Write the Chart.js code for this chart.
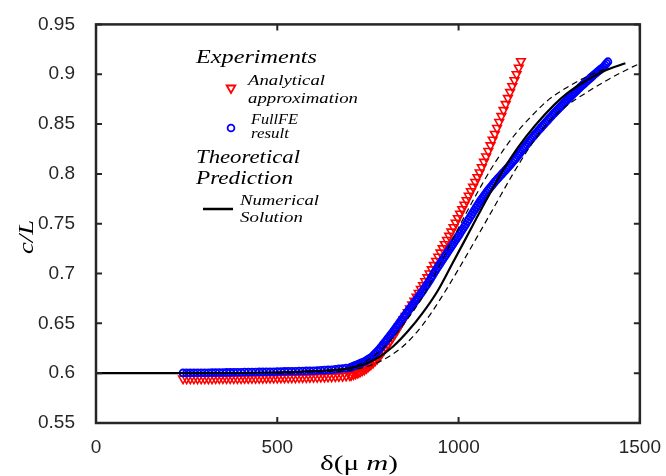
<!DOCTYPE html>
<html>
<head>
<meta charset="UTF-8">
<title>c/L vs delta</title>
<script src="https://cdn.jsdelivr.net/npm/chart.js"></script>
<style>
  html, body { margin: 0; padding: 0; background: #fff; }
</style>
</head>
<body>
<canvas id="myChart" width="666" height="476"></canvas>
<script>
// axis ticks
const xTicks = [0, 500, 1000, 1500];
const yTicks = [0.55, 0.6, 0.65, 0.7, 0.75, 0.8, 0.85, 0.9, 0.95];

// Experiments: analytical approximation (red triangles), [delta, c/L]
const analytical = [
  [240,0.5945],[250,0.5945],[260,0.5945],[270,0.5945],[280,0.5945],[290,0.5946],[300,0.5946],[310,0.5946],
  [320,0.5946],[330,0.5947],[340,0.5947],[350,0.5947],[360,0.5947],[370,0.5948],[380,0.5948],[390,0.5948],
  [400,0.5948],[410,0.5949],[420,0.5949],[430,0.5950],[440,0.5950],[450,0.5951],[460,0.5951],[470,0.5952],
  [480,0.5952],[490,0.5953],[500,0.5953],[510,0.5954],[520,0.5954],[530,0.5955],[540,0.5955],[550,0.5956],
  [560,0.5957],[570,0.5957],[580,0.5958],[590,0.5959],[600,0.5960],[610,0.5961],[620,0.5962],[630,0.5963],
  [640,0.5964],[650,0.5966],[660,0.5967],[670,0.5969],[680,0.5971],[690,0.5974],[700,0.5977],
  [704,0.5980],[710,0.5988],[716,0.5995],[722,0.6003],[728,0.6014],[734,0.6025],[740,0.6035],[746,0.6050],
  [752,0.6068],[758,0.6085],[764,0.6104],[770,0.6125],[776,0.6146],[782,0.6170],[788,0.6200],[794,0.6230],
  [800,0.6260],[806,0.6293],[812,0.6326],[818,0.6359],[824,0.6394],[830,0.6430],[836,0.6466],[842,0.6502],
  [848,0.6538],[854,0.6574],[860,0.6610],[866,0.6649],[872,0.6688],[878,0.6727],[884,0.6766],[890,0.6805],
  [896,0.6844],[902,0.6883],[908,0.6922],[914,0.6961],[920,0.7000],[926,0.7042],[932,0.7084],[938,0.7126],
  [944,0.7168],[950,0.7210],[956,0.7252],[962,0.7294],[968,0.7336],[974,0.7378],[980,0.7420],[986,0.7465],
  [992,0.7510],[998,0.7555],[1004,0.7600],[1010,0.7645],[1016,0.7690],[1022,0.7735],[1028,0.7780],[1034,0.7825],
  [1040,0.7870],[1046,0.7918],[1052,0.7966],[1058,0.8014],[1064,0.8066],[1070,0.8120],[1076,0.8174],[1082,0.8229],
  [1088,0.8286],[1094,0.8343],[1100,0.8400],[1106,0.8460],[1112,0.8520],[1118,0.8580],[1124,0.8640],[1130,0.8700],
  [1136,0.8760],[1142,0.8820],[1148,0.8880],[1154,0.8940],[1160,0.9000],[1166,0.9065],[1172,0.9130]
];

// Experiments: FullFE result (blue circles)
const fullFE = [
  [240,0.6003],[250,0.6003],[260,0.6003],[270,0.6004],[280,0.6004],[290,0.6005],[300,0.6005],[310,0.6005],
  [320,0.6006],[330,0.6006],[340,0.6007],[350,0.6007],[360,0.6008],[370,0.6008],[380,0.6009],[390,0.6009],
  [400,0.6010],[410,0.6011],[420,0.6011],[430,0.6012],[440,0.6012],[450,0.6013],[460,0.6013],[470,0.6014],
  [480,0.6015],[490,0.6015],[500,0.6016],[510,0.6017],[520,0.6018],[530,0.6019],[540,0.6019],[550,0.6020],
  [560,0.6021],[570,0.6022],[580,0.6023],[590,0.6024],[600,0.6025],[610,0.6027],[620,0.6029],[630,0.6031],
  [640,0.6033],[650,0.6035],[660,0.6039],[670,0.6043],[680,0.6047],[690,0.6051],[700,0.6055],
  [704,0.6061],[708,0.6067],[712,0.6073],[716,0.6079],[720,0.6085],[724,0.6091],[728,0.6097],[732,0.6103],
  [736,0.6109],[740,0.6115],[744,0.6124],[748,0.6133],[752,0.6142],[756,0.6151],[760,0.6160],[764,0.6175],
  [768,0.6190],[772,0.6205],[776,0.6220],[780,0.6235],[784,0.6253],[788,0.6271],[792,0.6289],[796,0.6307],
  [800,0.6325],[804,0.6344],[808,0.6363],[812,0.6382],[816,0.6401],[820,0.6420],[824,0.6440],[828,0.6460],
  [832,0.6480],[836,0.6500],[840,0.6520],[844,0.6540],[848,0.6560],[852,0.6580],[856,0.6600],[860,0.6620],
  [864,0.6640],[868,0.6660],[872,0.6680],[876,0.6700],[880,0.6720],[884,0.6740],[888,0.6760],[892,0.6780],
  [896,0.6800],[900,0.6820],[904,0.6842],[908,0.6864],[912,0.6886],[916,0.6908],[920,0.6930],[924,0.6954],
  [928,0.6978],[932,0.7002],[936,0.7026],[940,0.7050],[944,0.7072],[948,0.7094],[952,0.7116],[956,0.7138],
  [960,0.7160],[964,0.7182],[968,0.7204],[972,0.7226],[976,0.7248],[980,0.7270],[984,0.7292],[988,0.7314],
  [992,0.7336],[996,0.7358],[1000,0.7380],[1004,0.7403],[1008,0.7426],[1012,0.7449],[1016,0.7472],[1020,0.7495],
  [1024,0.7519],[1028,0.7543],[1032,0.7567],[1036,0.7591],[1040,0.7615],[1044,0.7638],[1048,0.7661],[1052,0.7684],
  [1056,0.7707],[1060,0.7730],[1064,0.7750],[1068,0.7770],[1072,0.7790],[1076,0.7810],[1080,0.7830],[1084,0.7848],
  [1088,0.7866],[1092,0.7884],[1096,0.7902],[1100,0.7920],[1104,0.7936],[1108,0.7952],[1112,0.7968],[1116,0.7984],
  [1120,0.8000],[1124,0.8016],[1128,0.8032],[1132,0.8048],[1136,0.8064],[1140,0.8080],[1144,0.8097],[1148,0.8114],
  [1152,0.8131],[1156,0.8148],[1160,0.8165],[1164,0.8184],[1168,0.8203],[1172,0.8222],[1176,0.8241],[1180,0.8260],
  [1184,0.8278],[1188,0.8296],[1192,0.8314],[1196,0.8332],[1200,0.8350],[1204,0.8367],[1208,0.8384],[1212,0.8401],
  [1216,0.8418],[1220,0.8435],[1224,0.8451],[1228,0.8467],[1232,0.8483],[1236,0.8499],[1240,0.8515],[1244,0.8531],
  [1248,0.8547],[1252,0.8563],[1256,0.8579],[1260,0.8595],[1264,0.8610],[1268,0.8625],[1272,0.8640],[1276,0.8655],
  [1280,0.8670],[1284,0.8685],[1288,0.8700],[1292,0.8715],[1296,0.8730],[1300,0.8745],[1304,0.8759],[1308,0.8773],
  [1312,0.8787],[1316,0.8801],[1320,0.8815],[1324,0.8829],[1328,0.8843],[1332,0.8857],[1336,0.8871],[1340,0.8885],
  [1344,0.8898],[1348,0.8911],[1352,0.8924],[1356,0.8937],[1360,0.8950],[1364,0.8963],[1368,0.8976],[1372,0.8989],
  [1376,0.9002],[1380,0.9015],[1384,0.9027],[1388,0.9039],[1392,0.9051],[1396,0.9063],[1400,0.9075],[1404,0.9092],
  [1408,0.9109],[1412,0.9126]
];

// Theoretical prediction: numerical solution (solid) and its two bounds (dashed)
const numerical = [
  [0,0.600],[200,0.600],[400,0.6002],[500,0.6008],[600,0.602],[650,0.603],[700,0.605],[740,0.609],
  [780,0.616],[820,0.627],[860,0.642],[900,0.660],[943,0.683],[980,0.708],[1016,0.7325],[1050,0.756],
  [1089,0.782],[1125,0.805],[1163,0.826],[1210,0.848],[1263,0.869],[1300,0.881],[1345,0.892],[1400,0.903],
  [1460,0.911]
];
const upperBound = [
  [500,0.600],[600,0.6022],[700,0.6055],[750,0.6135],[800,0.628],[850,0.650],[900,0.676],[950,0.710],
  [1000,0.746],[1050,0.780],[1100,0.811],[1150,0.837],[1200,0.8575],[1250,0.875],[1300,0.887],[1350,0.897],
  [1400,0.905]
];
const lowerBound = [
  [500,0.600],[600,0.6012],[700,0.603],[750,0.607],[800,0.615],[850,0.628],[900,0.648],[950,0.6745],
  [1000,0.7045],[1050,0.736],[1100,0.768],[1150,0.800],[1200,0.829],[1250,0.853],[1300,0.869],[1350,0.881],
  [1400,0.892],[1450,0.902],[1495,0.910]
];

const toXY = arr => arr.map(p => ({x: p[0], y: p[1]}));
const AXIS_COLOR = '#262626';

function fitText(ctx, str, x, y, font, w) {
    ctx.font = font;
    const m = ctx.measureText(str).width;
    ctx.save();
    ctx.translate(x, y);
    ctx.scale(w / m, 1);
    ctx.fillText(str, 0, 0);
    ctx.restore();
}

// frame, inner ticks, legend and axis titles
const decorPlugin = {
    id: 'decor',
    afterDraw(chart) {
        const ctx = chart.ctx;
        const a = chart.chartArea;
        const xs = chart.scales.x, ys = chart.scales.y;
        ctx.save();
        ctx.strokeStyle = AXIS_COLOR;
        ctx.lineWidth = 2;
        ctx.beginPath();
        xTicks.forEach(v => {
            const px = xs.getPixelForValue(v);
            ctx.moveTo(px, a.bottom); ctx.lineTo(px, a.bottom - 6);
            ctx.moveTo(px, a.top); ctx.lineTo(px, a.top + 6);
        });
        yTicks.forEach(v => {
            const py = ys.getPixelForValue(v);
            ctx.moveTo(a.left, py); ctx.lineTo(a.left + 6, py);
            ctx.moveTo(a.right, py); ctx.lineTo(a.right - 6, py);
        });
        ctx.stroke();
        ctx.lineWidth = 2.5;
        ctx.strokeRect(a.left, a.top, a.right - a.left, a.bottom - a.top);

        // legend
        ctx.fillStyle = '#000';
        ctx.textBaseline = 'alphabetic';
        ctx.textAlign = 'left';
        const serif = '"Liberation Serif", "Times New Roman", serif';
        fitText(ctx, 'Experiments', 196, 63, 'italic 19px ' + serif, 121);
        fitText(ctx, 'Analytical', 248, 85, 'italic 15px ' + serif, 77);
        fitText(ctx, 'approximation', 248, 103, 'italic 15px ' + serif, 110);
        fitText(ctx, 'FullFE', 251, 124, 'italic 14px ' + serif, 47);
        fitText(ctx, 'result', 251, 138, 'italic 14px ' + serif, 38);
        fitText(ctx, 'Theoretical', 196, 163, 'italic 19px ' + serif, 104);
        fitText(ctx, 'Prediction', 196, 184, 'italic 19px ' + serif, 97);
        fitText(ctx, 'Numerical', 240, 205, 'italic 15px ' + serif, 79);
        fitText(ctx, 'Solution', 240, 222, 'italic 15px ' + serif, 63);

        ctx.save();
        ctx.fillStyle = 'rgba(0,0,0,0)';
        ctx.strokeStyle = '#ff0000';
        ctx.lineWidth = 1.8;
        Chart.helpers.drawPoint(ctx, {pointStyle: 'triangle', rotation: 180, radius: 5, borderWidth: 1.8}, 231, 88);
        ctx.strokeStyle = '#0000ff';
        Chart.helpers.drawPoint(ctx, {pointStyle: 'circle', rotation: 0, radius: 3.4, borderWidth: 1.8}, 231, 128);
        ctx.restore();
        ctx.strokeStyle = '#000';
        ctx.lineWidth = 2.5;
        ctx.beginPath();
        ctx.moveTo(203, 209); ctx.lineTo(233, 209);
        ctx.stroke();

        // y title
        ctx.save();
        ctx.translate(33, 237);
        ctx.rotate(-Math.PI / 2);
        fitText(ctx, 'c/L', -17, 0, 'italic 22px ' + serif, 34);
        ctx.restore();

        // x title: δ(μ m) with italic m
        const parts = [['\u03B4(\u03BC ', '21px ' + serif], ['m', 'italic 22px ' + serif], [')', '21px ' + serif]];
        let total = 0;
        parts.forEach(p => { ctx.font = p[1]; total += ctx.measureText(p[0]).width; });
        const target = 78;
        ctx.save();
        ctx.translate(359 - target / 2, 470);
        ctx.scale(target / total, 1);
        let cx = 0;
        parts.forEach(p => { ctx.font = p[1]; ctx.fillText(p[0], cx, 0); cx += ctx.measureText(p[0]).width; });
        ctx.restore();
        ctx.restore();
    }
};

const ctx = document.getElementById('myChart').getContext('2d');
new Chart(ctx, {
    type: 'scatter',
    data: {
        datasets: [
            {
                label: 'Analytical approximation',
                data: toXY(analytical),
                pointStyle: 'triangle',
                rotation: 180,
                pointRadius: 5,
                borderColor: '#ff0000',
                backgroundColor: 'rgba(0,0,0,0)',
                borderWidth: 1.6,
                order: 5
            },
            {
                label: 'FullFE result',
                data: toXY(fullFE),
                pointStyle: 'circle',
                pointRadius: 3.4,
                borderColor: '#0000ff',
                backgroundColor: 'rgba(0,0,0,0)',
                borderWidth: 1.8,
                order: 4
            },
            {
                label: 'upper',
                data: toXY(upperBound),
                showLine: true,
                pointRadius: 0,
                borderColor: '#000',
                borderWidth: 1.2,
                borderDash: [6, 4],
                cubicInterpolationMode: 'monotone',
                order: 2
            },
            {
                label: 'lower',
                data: toXY(lowerBound),
                showLine: true,
                pointRadius: 0,
                borderColor: '#000',
                borderWidth: 1.2,
                borderDash: [6, 4],
                cubicInterpolationMode: 'monotone',
                order: 2
            },
            {
                label: 'Numerical Solution',
                data: toXY(numerical),
                showLine: true,
                pointRadius: 0,
                borderColor: '#000',
                borderWidth: 2.2,
                cubicInterpolationMode: 'monotone',
                order: 1
            }
        ]
    },
    options: {
        responsive: false,
        animation: false,
        layout: { padding: { top: 22, right: 23, left: 0, bottom: 0 } },
        plugins: { legend: { display: false }, tooltip: { enabled: false } },
        scales: {
            x: {
                type: 'linear',
                min: 0, max: 1500,
                afterFit: s => { s.height = 53; },
                afterBuildTicks: s => { s.ticks = xTicks.map(v => ({value: v})); },
                grid: { display: false },
                border: { display: false },
                ticks: {
                    color: AXIS_COLOR, padding: 5,
                    font: { family: '"Liberation Sans", Arial, sans-serif', size: 19 },
                    callback: v => String(v)
                }
            },
            y: {
                type: 'linear',
                min: 0.55, max: 0.95,
                afterFit: s => { s.width = 96; },
                afterBuildTicks: s => { s.ticks = yTicks.map(v => ({value: v})); },
                grid: { display: false },
                border: { display: false },
                ticks: {
                    color: AXIS_COLOR, padding: 13,
                    font: { family: '"Liberation Sans", Arial, sans-serif', size: 19 },
                    callback: v => String(+v.toFixed(2))
                }
            }
        }
    },
    plugins: [decorPlugin]
});
</script>
</body>
</html>
